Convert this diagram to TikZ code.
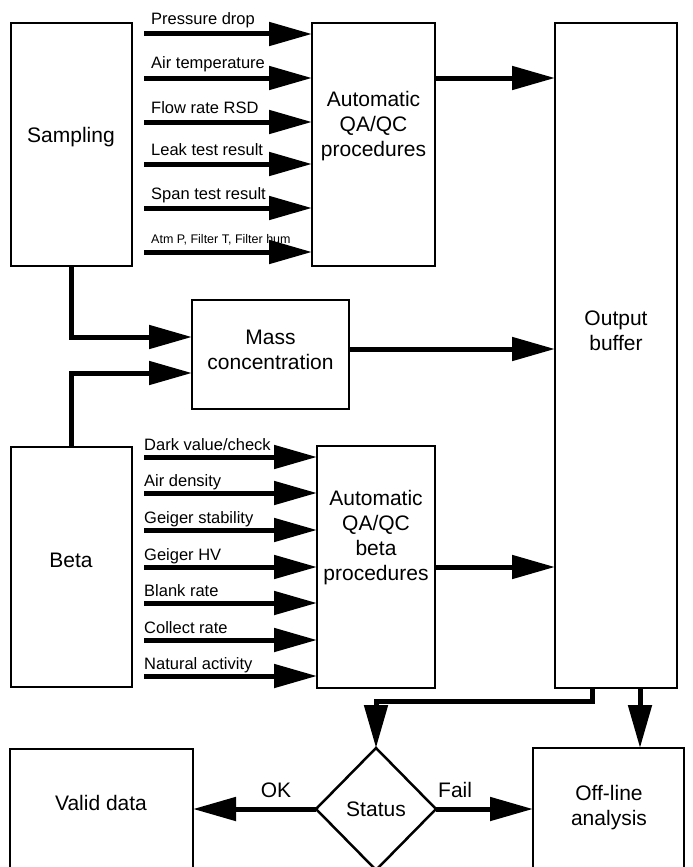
\documentclass[tikz,border=0pt]{standalone}
\usepackage{fontspec}
\setmainfont{Liberation Sans}
\usetikzlibrary{arrows.meta,shapes.geometric}

\begin{document}
\begin{tikzpicture}[x=1pt,y=-1pt,
  box/.style={draw,line width=2.5pt,anchor=north west,inner sep=0pt,outer sep=0pt},
  flow/.style={line width=5pt,-{Triangle[length=43pt,width=23pt]}},
  big/.style={font=\fontsize{21}{25}\selectfont,align=center,inner sep=0pt},
  lab/.style={font=\fontsize{16.5}{19}\selectfont,anchor=base west,inner sep=0pt},
  small/.style={font=\fontsize{12.5}{15}\selectfont,anchor=base west,inner sep=0pt}]

\clip (0,0) rectangle (693,867);
\fill[white] (0,0) rectangle (693,867);

% blocks
\node[box,minimum width=121pt,minimum height=243pt] (samp) at (11,23) {};
\node[box,minimum width=123pt,minimum height=243pt] (qa1) at (312,23) {};
\node[box,minimum width=122pt,minimum height=665pt] (out) at (555,23) {};
\node[box,minimum width=157pt,minimum height=109pt] (mass) at (192,300) {};
\node[box,minimum width=121pt,minimum height=240pt] (beta) at (11,447) {};
\node[box,minimum width=118pt,minimum height=242pt] (qa2) at (317,446) {};
\node[box,minimum width=183pt,minimum height=131pt] (valid) at (10,749) {};
\node[box,minimum width=151pt,minimum height=132pt] (off) at (533,748) {};
\node[draw,diamond,line width=2.5pt,minimum width=120pt,minimum height=122pt,
      inner sep=0pt,outer sep=0pt] (stat) at (376,809) {};

% block texts
\node[big] (tsamp) at (71,137) {Sampling};
\node[big] (tqa1) at (373.5,126) {Automatic\\QA/QC\\procedures};
\node[big] (tout) at (616,330.5) {Output\\buffer};
\node[big] (tmass) at (270.5,350) {Mass\\concentration};
\node[big] (tbeta) at (71,560) {Beta};
\node[big] (tqa2) at (376,538) {Automatic\\QA/QC\\beta\\procedures};
\node[big] (tvalid) at (101,803) {Valid data};
\node[big] (toff) at (609,808) {Off-line\\analysis};
\node[big] (tstat) at (stat) {Status};

% sampling parameters
\foreach \y/\t [count=\i] in {34/{Pressure drop},78/{Air temperature},122/{Flow rate RSD},
                              164/{Leak test result},208/{Span test result}}{
  \coordinate (s\i) at (144,\y);
  \draw[flow] (s\i) -- (s\i -| qa1.west);
  \node[lab] (ls\i) at (151,\y-9) {\t};
}
\coordinate (s6) at (144,252);
\draw[flow] (s6) -- (s6 -| qa1.west);
\node[small] (ls6) at (151,243) {Atm P, Filter T, Filter hum};

% beta parameters
\foreach \y/\t [count=\i] in {457/{Dark value/check},493/{Air density},530/{Geiger stability},
                              567/{Geiger HV},603/{Blank rate},640/{Collect rate},676/{Natural activity}}{
  \coordinate (b\i) at (144,\y);
  \draw[flow] (b\i) -- (b\i -| qa2.west);
  \node[lab] (lb\i) at (144,\y-7) {\t};
}

% mass concentration inputs and output
\draw[flow] (samp.south) |- ([yshift=17.5pt]mass.west);
\draw[flow] (beta.north) |- ([yshift=-18.5pt]mass.west);
\draw[flow] ([yshift=5.5pt]mass.east) -- ([yshift=5.5pt]mass.east -| out.west);

% QA/QC outputs
\draw[flow] ([yshift=66.5pt]qa1.east) -- ([yshift=66.5pt]qa1.east -| out.west);
\draw[flow] (qa2.east) -- (qa2.east -| out.west);

% output buffer to status and off-line analysis
\draw[flow] ([xshift=-24pt]out.south) -- ++(0,13) -| (stat.north);
\draw[flow] ([xshift=24pt]out.south) -- ([xshift=24pt]out.south |- off.north);

% status decisions
\draw[flow] (stat.west) -- (stat.west -| valid.east);
\draw[flow] (stat.east) -- (stat.east -| off.west);
\node[big,anchor=base] (lok) at (276,797) {OK};
\node[big,anchor=base west] (lfail) at (438,797) {Fail};
\end{tikzpicture}
\end{document}
